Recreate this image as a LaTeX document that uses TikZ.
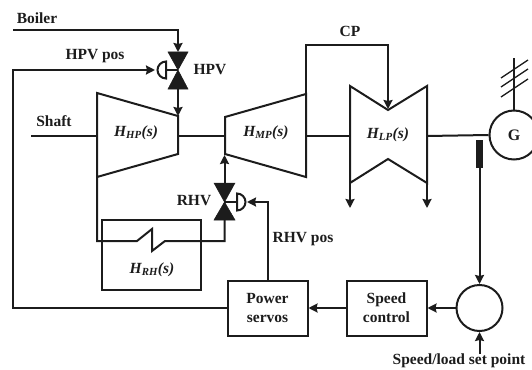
\documentclass[tikz,border=0pt]{standalone}
\usepackage{fontspec}
\setmainfont{Liberation Serif}
\usepackage{xcolor}
\usetikzlibrary{positioning,arrows.meta}
\definecolor{ink2}{HTML}{1C1C1C}
\newcommand{\tfblock}[1]{\textit{H\textsubscript{#1}(s)}}

\begin{document}
\begin{tikzpicture}[x=1pt,y=-1pt,
  ln/.style={line width=2pt, ink2, line join=miter},
  arr/.style={ln, -{Stealth[length=9pt,width=9pt,inset=1pt]}},
  valve/.style={fill=ink2, draw=ink2, line width=.5pt},
  lbl/.style={font=\fontsize{15.5}{17}\selectfont\bfseries, text=ink2, inner sep=0pt},
  tflbl/.style={lbl, font=\fontsize{15.5}{17}\selectfont\bfseries},
  blockbox/.style={ln, draw, align=center, font=\fontsize{15.5}{19}\selectfont\bfseries, text=ink2, minimum width=80pt, minimum height=55pt, inner sep=0pt},
  sumring/.style={ln, draw, circle, minimum size=46pt, inner sep=0pt},
  node distance=37pt]
\useasboundingbox (0,0) rectangle (532,369);
% blocks along the bottom
\node[blockbox] (servos) at (267.5,308) {Power\\servos};
\node[blockbox, right=of servos] (speedctl) {Speed\\control};
\node[sumring, right=28pt of speedctl] (sum) {};
\node[ln, draw, circle, minimum size=49pt, inner sep=0pt, font=\fontsize{16}{18}\selectfont\bfseries, text=ink2] (gen) at (514,135) {G};
\node[ln, draw, minimum width=99pt, minimum height=70pt, inner sep=0pt] (rhbox) at (151.5,255) {};
% turbines
\draw[ln] (97,93) -- (178,116) -- (178,154) -- (97,177) -- cycle;
\draw[ln] (225,117) -- (306,94) -- (306,177) -- (225,154) -- cycle;
\draw[ln] (350,86) -- (388,110) -- (427,86) -- (427,183) -- (388,159) -- (350,183) -- cycle;
\node[tflbl] (hp) at (136,133) {\tfblock{HP}};
\node[tflbl] (mp) at (266,133) {\tfblock{MP}};
\node[tflbl] (lp) at (388,135) {\tfblock{LP}};
\node[tflbl] (rh) at (152,270) {\tfblock{RH}};
% valves
\coordinate (hpv) at (178,70);
\coordinate (rhv) at (224.5,202);
\draw[valve] (168,52) -- (188,52) -- (hpv) -- (168,89) -- (188,89) -- (hpv) -- cycle;
\draw[valve] (214,183) -- (235,183) -- (rhv) -- (214,220) -- (235,220) -- (rhv) -- cycle;
\draw[ln, line width=1.4pt] (hpv) -- (166,70);
\draw[ln, line width=1.4pt] (rhv) -- (237,202);
\draw[ln] (166,61.5) arc[start angle=270,end angle=90,radius=8.5] -- cycle;
\draw[ln] (237,193.5) arc[start angle=270,end angle=450,radius=8.5] -- cycle;
% steam path
\coordinate (boil) at (13,30);
\coordinate (shaft) at (31,136);
\draw[arr] (boil) -| (hpv |- 0,52);
\draw[arr] (178,89) -- (178,116);
\draw[ln] (shaft) -- (97,136);
\draw[ln] (178,136) -- (225,136);
\draw[ln] (306,136) -- (350,136);
\draw[ln] (427,136) -- (gen.west);
\draw[arr] (306,94) |- (388,45) -- (388,109);
\draw[arr] (350,183) -- (350,208);
\draw[arr] (427,183) -- (427,208);
\draw[arr] (224.5,183) -- (224.5,155);
\draw[ln] (97,177) -- (97,241) -- (137,241) -- (152,229) -- (152,251) -- (165,241) -- (224.5,241) -- (224.5,220);
% generator output
\draw[ln, line width=1.5pt] (gen.north) -- (514,58);
\foreach \yy in {78,87,97} \draw[ln, line width=1.3pt] (501,\yy) -- (528,\yy-18);
% speed sensing and control
\fill[ink2] (476,140) rectangle (483,168);
\coordinate (sensor) at (sum.north |- 0,168);
\coordinate (setpt) at (sum.south |- 0,354);
\draw[arr] (sensor) -- (sum.north);
\draw[arr] (setpt) -- (sum.south);
\draw[arr] (sum) -- (speedctl);
\draw[arr] (speedctl) -- (servos);
\draw[arr] (servos.west) -- (13,308) -- (13,70) -- (155,70);
\draw[arr] (servos.north) |- (247,202);
% labels
\node[lbl] (boilerl) at (37,18) {Boiler};
\node[lbl] (hpvposl) at (95,56) {HPV pos};
\node[lbl] (hpvl) at (210,70) {HPV};
\node[lbl] (shaftl) at (54,121) {Shaft};
\node[lbl] (cpl) at (350,31) {CP};
\node[lbl] (rhvl) at (194,201) {RHV};
\node[lbl] (rhvposl) at (303,239) {RHV pos};
\node[lbl] (setl) at (459,361) {Speed/load set point};
\end{tikzpicture}
\end{document}
